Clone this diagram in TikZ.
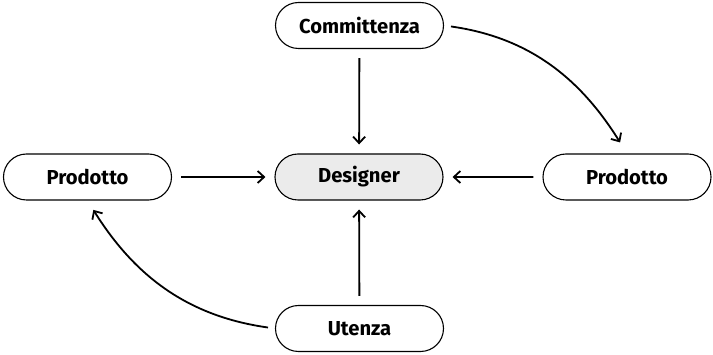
\documentclass[tikz,border=0pt]{standalone}
\usepackage{fontspec}
\setmainfont{Fira Sans}
\usetikzlibrary{arrows.meta,shapes.misc}
\begin{document}
\begin{tikzpicture}[x=1pt,y=1pt,
  box/.style={rounded rectangle, draw=black, line width=1.1pt, minimum width=168pt, minimum height=46pt, inner sep=0pt, font=\fontsize{20.2}{23}\selectfont\bfseries},
  arr/.style={-{Straight Barb[length=6.5pt,width=12pt,line width=1.8pt]}, line width=1.8pt}]
\useasboundingbox (0,0) rectangle (713,-355);
\node[box] (commit) at (359.5,-25.5) {Committenza};
\node[box, fill=black!8] (designer) at (359,-177) {Designer};
\node[box] (pl) at (87.5,-177) {Prodotto};
\node[box] (pr) at (627,-177) {Prodotto};
\node[box] (uten) at (359.5,-328.5) {Utenza};
\draw[arr, shorten <=9pt, shorten >=9pt] (commit) -- (designer);
\draw[arr, shorten <=9pt, shorten >=9pt] (pl) -- (designer);
\draw[arr, shorten <=9pt, shorten >=9pt] (pr) -- (designer);
\draw[arr, shorten <=9pt, shorten >=9pt] (uten) -- (designer);
\draw[arr, shorten <=7pt, shorten >=13pt] (commit.east) to[out=-8, in=122] (pr.north);
\draw[arr, shorten <=7pt, shorten >=11pt] (uten.west) to[out=172, in=-58] (pl.south);
\end{tikzpicture}
\end{document}
